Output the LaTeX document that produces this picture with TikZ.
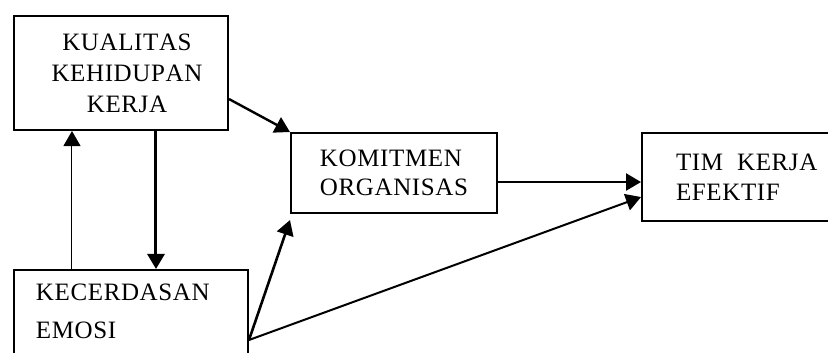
\documentclass[tikz,border=0pt]{standalone}
\usepackage{fontspec}
\setmainfont{Liberation Serif}[LetterSpace=2.5,Kerning=Off]
\usetikzlibrary{arrows.meta}
\tikzset{
  kotak/.style={draw, line width=1pt, inner sep=0pt, anchor=north west, font=\fontsize{12.5}{15}\selectfont},
  panah/.style={-{Triangle[length=7.5pt,width=8.5pt]}}
}
\begin{document}
\begin{tikzpicture}
   \useasboundingbox (0,0) rectangle (14.55,6.186);
   \node[kotak, minimum width=107pt, minimum height=57pt, align=center, font=\fontsize{12.5}{15.5}\selectfont] (kualitas) at (0.228,5.922) {\hspace*{6pt}KUALITAS\\\hspace*{6pt}KEHIDUPAN\\\hspace*{6pt}KERJA};
   \node[kotak, text width=95pt, inner xsep=11pt, inner ysep=7pt, text depth=30pt, align=left] (emosi) at (0.228,1.459) {KECERDASAN\\[4pt]EMOSI};
   \node[kotak, minimum width=103pt, minimum height=40pt, align=left, font=\fontsize{12.5}{14.5}\selectfont] (komitmen) at (5.096,3.866) {KOMITMEN\\ORGANISAS};
   \node[kotak, text width=90pt, inner xsep=17pt, minimum height=44pt, align=left] (tim) at (11.264,3.866) {TIM\hspace{7pt}KERJA\\EFEKTIF};
   \coordinate (pangkal) at ([yshift=-35.5pt]emosi.north east);
   \draw[panah, line width=0.5pt] ([xshift=29.5pt]emosi.north west) -- ([xshift=29.5pt]kualitas.south west);
   \draw[panah, line width=1.5pt] ([xshift=71.5pt]kualitas.south west) -- ([xshift=71.5pt]emosi.north west);
   \draw[panah, line width=1.2pt] ([yshift=-42pt]kualitas.north east) -- (komitmen.north west);
   \draw[panah, line width=1.3pt] (pangkal) -- ([yshift=-3pt]komitmen.south west);
   \draw[panah, line width=1pt] (pangkal) -- ([yshift=-32.5pt]tim.north west);
   \draw[panah, line width=1.2pt] ([yshift=-25pt]komitmen.north east) -- ([yshift=-25pt]tim.north west);
\end{tikzpicture}
\end{document}
